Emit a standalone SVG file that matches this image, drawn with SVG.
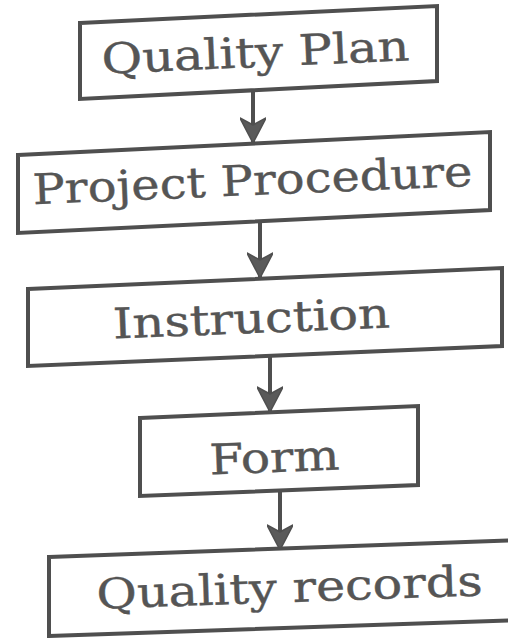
<svg xmlns="http://www.w3.org/2000/svg" width="508" height="638" viewBox="0 0 508 638">
<defs>
<style>
.box{fill:#ffffff;stroke:#4f4f4f;stroke-width:4;stroke-linejoin:miter}
.lbl{font-family:"DejaVu Serif","Liberation Serif",serif;font-size:42px;fill:#555555;stroke:#555555;stroke-width:0.4;text-anchor:middle}
.conn{stroke:#4f4f4f;stroke-width:4;fill:none}
</style>
<marker id="arr" viewBox="0 0 26 26" refX="26" refY="13" markerWidth="26" markerHeight="26" markerUnits="userSpaceOnUse" orient="auto">
<path d="M26,13 L1,0 L8,13 L1,26 Z" fill="#5a5a5a" stroke="#4f4f4f" stroke-width="1.5" stroke-linejoin="round"/>
</marker>
</defs>
<rect width="508" height="638" fill="#ffffff"/>
<g id="connectors">
<path class="conn" d="M253,92 L253,143" marker-end="url(#arr)"/>
<path class="conn" d="M260,222 L260,278" marker-end="url(#arr)"/>
<path class="conn" d="M270,357 L270,412" marker-end="url(#arr)"/>
<path class="conn" d="M280,490 L280,550" marker-end="url(#arr)"/>
</g>
<g id="quality-plan">
<polygon class="box" points="80,23 437,6 437,81 80,99"/>
<text class="lbl" x="256" y="67" textLength="308" lengthAdjust="spacingAndGlyphs" transform="rotate(-2.5 256 67)">Quality Plan</text>
</g>
<g id="project-procedure">
<polygon class="box" points="18,155 490,132 490,210 18,233"/>
<text class="lbl" x="253" y="195" textLength="440" lengthAdjust="spacingAndGlyphs" transform="rotate(-2.4 253 195)">Project Procedure</text>
</g>
<g id="instruction">
<polygon class="box" points="28,289 502,268 502,346 28,366"/>
<text class="lbl" x="252" y="333" textLength="277" lengthAdjust="spacingAndGlyphs" transform="rotate(-2.3 252 333)">Instruction</text>
</g>
<g id="form">
<polygon class="box" points="140,418 418,406 418,485 140,496"/>
<text class="lbl" x="275" y="472" textLength="130" lengthAdjust="spacingAndGlyphs" transform="rotate(-2.2 275 472)">Form</text>
</g>
<g id="quality-records">
<polygon class="box" points="49,557 520,540 520,620 49,636"/>
<text class="lbl" x="290" y="602" textLength="386" lengthAdjust="spacingAndGlyphs" transform="rotate(-2.0 290 602)">Quality records</text>
</g>
</svg>
